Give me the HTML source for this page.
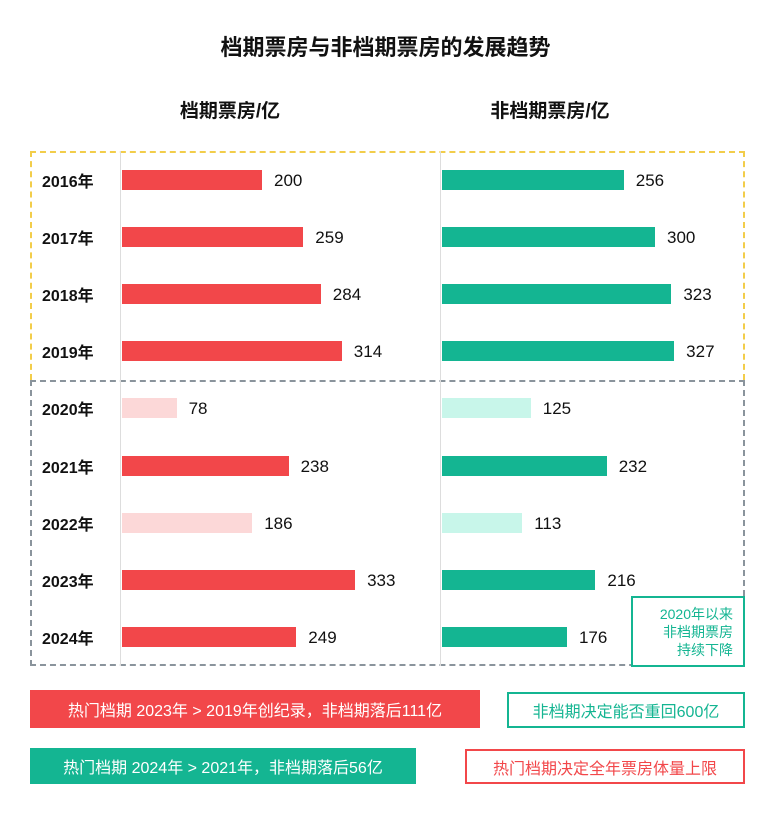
<!DOCTYPE html>
<html><head><meta charset="utf-8"><style>
body{margin:0;width:771px;height:816px;background:#fff;font-family:"Liberation Sans","Noto Sans CJK SC",sans-serif;position:relative;overflow:hidden}
.a{position:absolute}
.t{font-weight:bold;color:#111}
.yr{position:absolute;left:42px;width:75px;font-weight:bold;font-size:16px;color:#111}
.bar{position:absolute;height:20px}
.v{position:absolute;font-size:17px;color:#111}
.bx{position:absolute;box-sizing:border-box;font-size:16px;display:flex;align-items:center;justify-content:center}
</style></head><body>
<div class="a t" style="left:0;width:771px;top:30px;text-align:center;font-size:22px">档期票房与非档期票房的发展趋势</div>
<div class="a t" style="left:130px;width:200px;top:96px;text-align:center;font-size:19px">档期票房/亿</div>
<div class="a t" style="left:450px;width:200px;top:96px;text-align:center;font-size:19px">非档期票房/亿</div>
<div class="a" style="left:30px;top:151px;width:715px;height:229px;box-sizing:border-box;border:2px dashed #f2cd4a;border-bottom:none"></div>
<div class="a" style="left:30px;top:380px;width:715px;height:286px;box-sizing:border-box;border:2px dashed #8a949c"></div>
<div class="a" style="left:120px;top:151px;width:1px;height:515px;background:#ddd"></div>
<div class="a" style="left:440px;top:151px;width:1px;height:515px;background:#ddd"></div>
<div id="rows"></div>
<script>
var d=[["2016",200,256,0],["2017",259,300,0],["2018",284,323,0],["2019",314,327,0],["2020",78,125,1],["2021",238,232,0],["2022",186,113,1],["2023",333,216,0],["2024",249,176,0]];
var h="";
d.forEach(function(r,i){var c=180+i*57.1;
h+='<div class="yr" style="top:'+(c-12)+'px">'+r[0]+'年</div>';
var w1=r[1]*0.7,w2=r[2]*0.71;
h+='<div class="bar" style="left:122px;top:'+(c-10)+'px;width:'+w1+'px;background:'+(r[3]?'#fcd8d8':'#f2474a')+'"></div>';
h+='<div class="v" style="left:'+(122+w1+12)+'px;top:'+(c-9)+'px">'+r[1]+'</div>';
h+='<div class="bar" style="left:442px;top:'+(c-10)+'px;width:'+w2+'px;background:'+(r[3]?'#c8f6ea':'#14b592')+'"></div>';
h+='<div class="v" style="left:'+(442+w2+12)+'px;top:'+(c-9)+'px">'+r[2]+'</div>';});
document.getElementById("rows").innerHTML=h;
</script>
<div class="bx" style="left:631px;top:596px;width:114px;height:71px;border:2px solid #14b592;background:#fff;color:#14b592;font-size:14px;flex-direction:column;align-items:flex-end;padding-right:10px;line-height:18px"><div>2020年以来</div><div>非档期票房</div><div>持续下降</div></div>
<div class="bx" style="left:30px;top:690px;width:450px;height:38px;background:#f2474a;color:#fff">热门档期 2023年 &gt; 2019年创纪录，非档期落后111亿</div>
<div class="bx" style="left:507px;top:692px;width:238px;height:36px;border:2px solid #14b592;color:#14b592">非档期决定能否重回600亿</div>
<div class="bx" style="left:30px;top:748px;width:386px;height:36px;background:#14b592;color:#fff">热门档期 2024年 &gt; 2021年，非档期落后56亿</div>
<div class="bx" style="left:465px;top:749px;width:280px;height:35px;border:2px solid #f2474a;color:#f2474a">热门档期决定全年票房体量上限</div>
</body></html>
